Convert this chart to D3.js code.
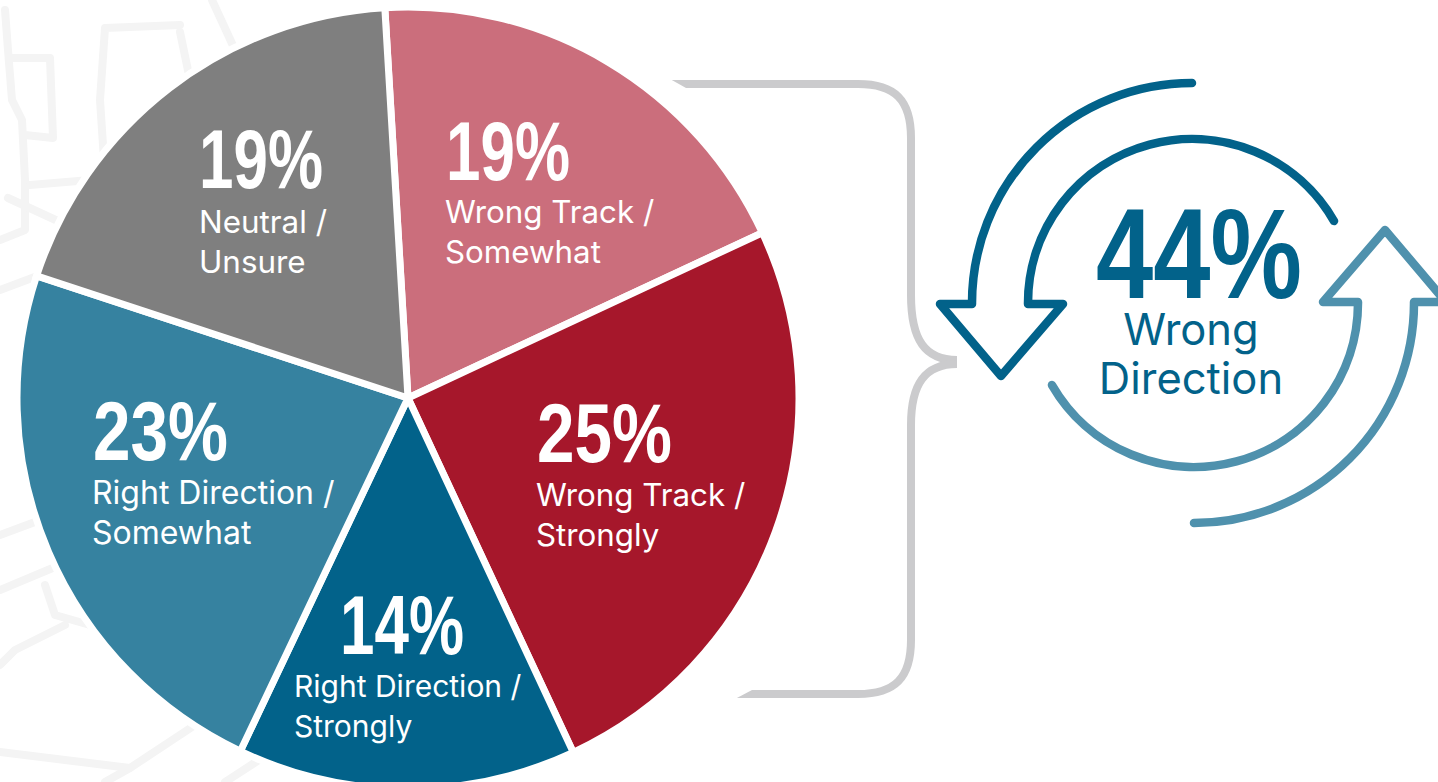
<!DOCTYPE html>
<html><head><meta charset="utf-8">
<style>html,body{margin:0;padding:0;background:#fff;overflow:hidden}svg{display:block}text{font-family:Inter,Roboto,sans-serif}</style>
<script src="https://cdn.jsdelivr.net/npm/d3@7"></script></head><body>
<script>
const categories=["Wrong Track / Somewhat","Wrong Track / Strongly","Right Direction / Strongly","Right Direction / Somewhat","Neutral / Unsure"];
const values=[19,25,14,23,19];
const sliceColors=["#cb6e7c","#a6172b","#02628a","#3682a0","#7f7f7f"];
const percentLabels=["19%","25%","14%","23%","19%"];
const percentPos=[[446,180,124],[537,462,135],[340,654,124],[93,460,135],[199,188,124]];
const labelLines=[["Wrong Track /","Somewhat"],["Wrong Track /","Strongly"],["Right Direction /","Strongly"],["Right Direction /","Somewhat"],["Neutral /","Unsure"]];
const labelPos=[[445,223],[536,506],[294,697],[92,504],[199,233]];
const labelSizes=[31.3,31.3,30,32,31.4];
const sketch=[
 [[5,10],[8,50],[12,100],[22,120],[25,180],[25,230],[0,240]],
 [[12,58],[50,58],[53,138],[25,135]],
 [[180,25],[105,28],[100,100],[105,175]],
 [[180,32],[190,80]],[[212,0],[235,50]],
 [[30,185],[90,180]],[[8,198],[60,222]],[[0,290],[40,275]],
 [[0,535],[35,522]],[[0,590],[55,567]],[[45,585],[55,615],[90,625]],[[65,625],[15,650],[0,665]],
 [[0,752],[130,768],[195,725]],[[130,768],[105,782]],[[225,782],[262,758]]
];
const svg=d3.select("body").append("svg").attr("width",1438).attr("height",782);
const line=d3.line();
svg.append("g").selectAll("path").data(sketch).join("path").attr("d",line)
 .attr("fill","none").attr("stroke","#f4f4f4").attr("stroke-width",8).attr("stroke-linecap","round").attr("stroke-linejoin","round");

const cx=408,cy=398,R=391,start=-3.4*Math.PI/180;
const pie=d3.pie().sort(null).startAngle(start).endAngle(start+2*Math.PI);
const arc=d3.arc().innerRadius(0).outerRadius(R);
const g=svg.append("g").attr("transform",`translate(${cx},${cy})`);
g.selectAll("path").data(pie(values)).join("path").attr("d",arc)
 .attr("fill",(d,i)=>sliceColors[i]).attr("stroke","#fff").attr("stroke-width",7);

svg.append("g").selectAll("text").data(percentLabels).join("text")
 .attr("x",(d,i)=>percentPos[i][0]).attr("y",(d,i)=>percentPos[i][1])
 .attr("textLength",(d,i)=>percentPos[i][2]).attr("lengthAdjust","spacingAndGlyphs")
 .style("font-family","'Liberation Sans Narrow','Liberation Sans',sans-serif")
 .attr("font-size",84).attr("font-weight",700).attr("fill","#fff").text(d=>d);
labelLines.forEach((ls,i)=>ls.forEach((t,j)=>svg.append("text")
 .attr("x",labelPos[i][0]).attr("y",labelPos[i][1]+j*40).attr("font-size",labelSizes[i]).attr("fill","#fff").text(t)));

const brace=svg.append("g").attr("fill","none").attr("stroke","#cbcbcd").attr("stroke-width",8);
brace.append("path").attr("d","M672,84H858C895,84 911,100 911,138V295C911,340 925,360 957,360");
brace.append("path").attr("d","M957,364C925,364 911,384 911,425V640C911,678 895,694 858,694H737");
svg.append("path").attr("d","M668,88H686L670,79Z").attr("fill","#fff");
svg.append("path").attr("d","M733,690H752L735,699Z").attr("fill","#fff");

const ax=1192,ay=303,rOut=220,rIn=164;
function arrow(){const p=d3.path();
 p.moveTo(ax,ay-rOut);
 p.arc(ax,ay,rOut,-Math.PI/2,Math.PI,true);
 p.lineTo(ax-rOut,ay+1);p.lineTo(ax-252,ay+1);p.lineTo(ax-191,ay+73);p.lineTo(ax-129,ay+1);p.lineTo(ax-rIn,ay+1);p.lineTo(ax-rIn,ay);
 p.arc(ax,ay,rIn,Math.PI,-Math.PI/6,false);
 return p.toString();}
const arrowG=svg.append("g").attr("fill","none").attr("stroke-width",8.5).attr("stroke-linecap","round").attr("stroke-linejoin","round");
arrowG.append("path").attr("d",arrow()).attr("stroke","#02628a");
arrowG.append("path").attr("d",arrow()).attr("stroke","#4f91ad").attr("transform",`translate(2,0) rotate(180 ${ax} ${ay})`);

svg.append("text").attr("x",1096).attr("y",298)
 .style("font-family","'Liberation Sans Narrow','Liberation Sans',sans-serif")
 .attr("font-size",128).attr("font-weight",700).attr("fill","#02628a")
 .attr("textLength",206).attr("lengthAdjust","spacingAndGlyphs").text("44%");
svg.append("g").selectAll("text").data(["Wrong","Direction"]).join("text")
 .attr("x",1191).attr("y",(d,i)=>345+i*49).attr("text-anchor","middle").attr("font-size",43.5).attr("fill","#02628a").text(d=>d);
</script></body></html>
